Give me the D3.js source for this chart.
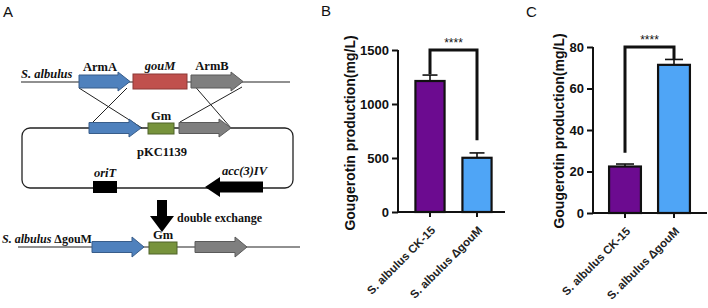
<!DOCTYPE html>
<html>
<head>
<meta charset="utf-8">
<script src="https://cdn.jsdelivr.net/npm/d3@7"></script>
<style>
  body { margin: 0; background: #fff; }
  svg { display: block; }
</style>
</head>
<body>
<script>
// --- chart data ---
const strains = ["S. albulus CK-15", "S. albulus \u0394gouM"];
const barColors = ["#6c0b90", "#4fa5f6"];

// panel B: gougerotin production, mg/L
const prodB = [1213, 502];
const errB = [55, 45];
const ticksB = [0, 500, 1000, 1500];
const bracketB = { top: 1500, left: 1275, right: 665, label: "****" };

// panel C: gougerotin production, mg/L
const prodC = [22.4, 71.4];
const errC = [1.2, 2.6];
const ticksC = [0, 20, 40, 60, 80];
const bracketC = { top: 80, left: 29, right: 74, label: "****" };

const W = 708, H = 308;
const svg = d3.select("body").append("svg").attr("width", W).attr("height", H);

const sans = "'Liberation Sans', Arial, sans-serif";
const serif = "'Liberation Serif', 'Times New Roman', serif";

// panel letters
[["A", 3, 17], ["B", 321, 16], ["C", 526, 17]].forEach(([t, x, y]) => {
  svg.append("text").attr("x", x).attr("y", y).attr("font-family", sans)
    .attr("font-size", 15).attr("fill", "#111").text(t);
});

/**
 * Panel A - the knock-out schematic
 */
const gA = svg.append("g");

// arrow polygon; dir 1 points right, -1 points left
function arrow(x0, x1, yc, bodyH, headH, headLen, dir) {
  let tip = dir > 0 ? x1 : x0;
  let tail = dir > 0 ? x0 : x1;
  let hb = tip - dir * headLen;
  let pts = [
    [tail, yc - bodyH], [hb, yc - bodyH], [hb, yc - headH], [tip, yc],
    [hb, yc + headH], [hb, yc + bodyH], [tail, yc + bodyH]
  ];
  return "M" + pts.map(p => p.join(",")).join("L") + "Z";
}

const BLUE = ["#4f81bd", "#385d8a"];
const GRAY = ["#7f7f7f", "#5a5a5a"];
const RED = ["#c0504d", "#8c3836"];
const GREEN = ["#77933c", "#4f6228"];

function gene(x0, x1, yc, col, bodyH, headH, headLen) {
  gA.append("path").attr("d", arrow(x0, x1, yc, bodyH, headH, headLen, 1))
    .attr("fill", col[0]).attr("stroke", col[1]).attr("stroke-width", 1);
}
function box(x0, x1, y0, y1, col) {
  gA.append("rect").attr("x", x0).attr("y", y0).attr("width", x1 - x0).attr("height", y1 - y0)
    .attr("fill", col[0]).attr("stroke", col[1]).attr("stroke-width", 1);
}
function label(t, x, y, opts) {
  opts = opts || {};
  return gA.append("text").attr("x", x).attr("y", y)
    .attr("font-family", serif).attr("font-weight", "bold")
    .attr("font-size", opts.size || 12.5)
    .attr("font-style", opts.italic ? "italic" : "normal")
    .attr("text-anchor", opts.anchor || "middle")
    .attr("fill", "#111").text(t);
}
function line(x0, y0, x1, y1, w) {
  gA.append("line").attr("x1", x0).attr("y1", y0).attr("x2", x1).attr("y2", y1)
    .attr("stroke", "#222").attr("stroke-width", w || 1);
}

// chromosome row
line(21, 82, 290, 82, 1.2);
label("S. albulus", 21, 78, { italic: true, anchor: "start" });
// crossover lines
line(79, 88, 142, 128);
line(127, 88, 92, 123);
line(192, 83, 231, 128);
line(242, 87, 180, 122);
gene(79, 130, 81.5, BLUE, 6.5, 9.5, 12);
box(133, 187, 74, 89, RED);
gene(191, 243, 81.5, GRAY, 6.5, 9.5, 12);
label("ArmA", 100, 71);
label("gouM", 160, 70, { italic: true });
label("ArmB", 212, 70);

// plasmid
gA.append("rect").attr("x", 22).attr("y", 128).attr("width", 271).attr("height", 60)
  .attr("rx", 8).attr("fill", "none").attr("stroke", "#222").attr("stroke-width", 1.3);
gene(89, 141, 128, BLUE, 5.5, 9, 12);
box(148, 174, 123, 134, GREEN);
gene(179, 231, 128, GRAY, 5.5, 9, 12);
label("Gm", 161, 120);
label("pKC1139", 162, 156);
gA.append("rect").attr("x", 93).attr("y", 181).attr("width", 24).attr("height", 12).attr("fill", "#000");
label("oriT", 105, 177, { italic: true });
gA.append("path").attr("d", arrow(205, 263, 187, 5.5, 10, 15, -1)).attr("fill", "#000");
label("acc(3)IV", 267, 175, { italic: true, anchor: "end" });

// double exchange arrow
gA.append("path")
  .attr("d", "M157,200L167,200L167,216L174,216L162,232L150,216L157,216Z")
  .attr("fill", "#000");
label("double exchange", 177, 222, { anchor: "start", size: 12 });

// mutant row
line(18, 247, 300, 247, 1.2);
const mut = label("", 2, 243, { anchor: "start", size: 12 });
mut.append("tspan").attr("font-style", "italic").text("S. albulus ");
mut.append("tspan").text("\u0394gouM");
gene(92, 144, 247, BLUE, 5.5, 10, 12);
box(149, 177, 242, 254, GREEN);
gene(195, 247, 247, GRAY, 5.5, 10, 12);
label("Gm", 163, 239);

/**
 * Panels B and C - bar charts
 */
function barPanel(cfg) {
  const g = svg.append("g");
  const y = d3.scaleLinear().domain(cfg.domain).range([cfg.y0, cfg.y1]);
  const x = d3.scaleBand().domain(strains).range(cfg.xr)
    .paddingInner(cfg.pad).paddingOuter(cfg.pad / 2);
  const lw = 2.2;

  // bars
  g.selectAll(".bar").data(strains).enter().append("rect")
    .attr("x", d => x(d))
    .attr("y", (d, i) => y(cfg.values[i]))
    .attr("width", x.bandwidth())
    .attr("height", (d, i) => y(0) - y(cfg.values[i]))
    .attr("fill", (d, i) => barColors[i])
    .attr("stroke", "#111").attr("stroke-width", lw);

  // error bars (upper half only)
  strains.forEach((s, i) => {
    let cx = x(s) + x.bandwidth() / 2;
    let top = y(cfg.values[i] + cfg.errors[i]);
    g.append("line").attr("x1", cx).attr("x2", cx)
      .attr("y1", y(cfg.values[i])).attr("y2", top)
      .attr("stroke", "#111").attr("stroke-width", 1.6);
    g.append("line").attr("x1", cx - cfg.cap).attr("x2", cx + cfg.cap)
      .attr("y1", top).attr("y2", top)
      .attr("stroke", "#111").attr("stroke-width", 1.6);
  });

  // y axis
  const yAxis = d3.axisLeft(y).tickValues(cfg.ticks).tickSize(6).tickPadding(3).tickFormat(d3.format("d"));
  const ya = g.append("g").attr("transform", "translate(" + cfg.xAxis0 + ",0)").call(yAxis);
  ya.select(".domain").attr("stroke", "#111").attr("stroke-width", 2).attr("d", "M0," + y(0) + "V" + y(cfg.domain[1]));
  ya.selectAll(".tick line").attr("stroke", "#111").attr("stroke-width", 2);
  ya.selectAll(".tick text").attr("font-family", sans).attr("font-weight", "bold")
    .attr("font-size", 13).attr("fill", "#111");

  // x axis
  const xAxis = d3.axisBottom(x).tickSize(5).tickFormat("");
  const xa = g.append("g").attr("transform", "translate(0," + y(0) + ")").call(xAxis);
  xa.select(".domain").attr("stroke", "#111").attr("stroke-width", 2)
    .attr("d", "M" + (cfg.xAxis0 - 1) + ",0H" + cfg.xAxis1);
  xa.selectAll(".tick line").attr("stroke", "#111").attr("stroke-width", 2);

  // rotated category labels
  strains.forEach(s => {
    let cx = x(s) + x.bandwidth() / 2;
    g.append("text")
      .attr("transform", "translate(" + (cx + 6) + "," + (y(0) + 19) + ") rotate(-45)")
      .attr("text-anchor", "end").attr("font-family", sans).attr("font-size", 11.5)
      .attr("font-weight", 600).attr("fill", "#222").text(s);
  });

  // y label
  g.append("text")
    .attr("transform", "translate(" + cfg.labelX + "," + cfg.labelY + ") rotate(-90)")
    .attr("text-anchor", "middle").attr("font-family", sans).attr("font-weight", "bold")
    .attr("font-size", 14).attr("fill", "#111").text("Gougerotin production(mg/L)");

  // significance bracket
  const b = cfg.bracket;
  const xl = x(strains[0]) + x.bandwidth() / 2;
  const xr = x(strains[1]) + x.bandwidth() / 2;
  g.append("path")
    .attr("d", "M" + xl + "," + y(b.left) + "V" + y(b.top) + "H" + xr + "V" + y(b.right))
    .attr("fill", "none").attr("stroke", "#111").attr("stroke-width", 3);
  g.append("text").attr("x", (xl + xr) / 2).attr("y", y(b.top) - 3)
    .attr("text-anchor", "middle").attr("font-family", sans).attr("font-size", 12)
    .attr("fill", "#111").text(b.label);
}

barPanel({
  values: prodB, errors: errB, ticks: ticksB, bracket: bracketB,
  domain: [0, 1500], y0: 212, y1: 50, xr: [406.5, 500.5], pad: 0.38,
  xAxis0: 398, xAxis1: 505, cap: 7.5, labelX: 355, labelY: 133
});

barPanel({
  values: prodC, errors: errC, ticks: ticksC, bracket: bracketC,
  domain: [0, 80], y0: 213, y1: 47, xr: [600.5, 698.5], pad: 0.35,
  xAxis0: 593, xAxis1: 707, cap: 9, labelX: 564, labelY: 131
});
</script>
</body>
</html>
